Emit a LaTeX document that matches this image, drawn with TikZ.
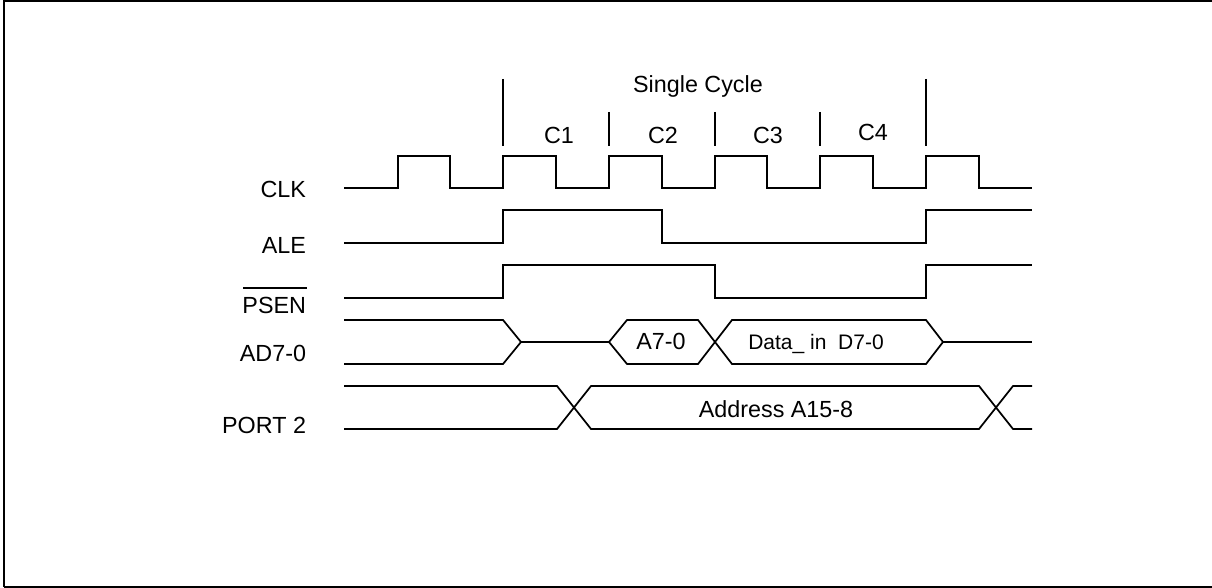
\documentclass[tikz,border=0pt]{standalone}
\usepackage{fontspec}
\setmainfont{Liberation Sans}
\tikzset{
  wave/.style={line width=1.3pt,line join=miter,line cap=butt,black},
  ticklines/.style={line width=1.2pt,black},
  frameline/.style={line width=1.5pt,black},
  lab/.style={inner sep=0pt,outer sep=0pt,anchor=base east,font=\fontsize{17.5}{20}\selectfont},
  captext/.style={inner sep=0pt,outer sep=0pt,anchor=base,font=\fontsize{17.5}{20}\selectfont},
  smalltext/.style={inner sep=0pt,outer sep=0pt,anchor=base,font=\fontsize{15.75}{18}\selectfont}
}
\begin{document}
\begin{tikzpicture}[x=0.75pt,y=-0.75pt]
\useasboundingbox (0,0) rectangle (1212,588);
\draw[frameline] (4,587) -- (4,1) -- (1212,1);
\draw[frameline] (4,587) -- (1212,587);
% cycle ticks
\draw[ticklines] (503,79) -- (503,146);
\draw[ticklines] (609,112) -- (609,146);
\draw[ticklines] (715,112) -- (715,146);
\draw[ticklines] (820,112) -- (820,146);
\draw[ticklines] (926,79) -- (926,146);
% CLK
\draw[wave] (344,188) -- (398,188) -- (398,156) -- (450,156) -- (450,188) -- (503,188) -- (503,156) -- (556,156) -- (556,188) -- (609,188) -- (609,156) -- (662,156) -- (662,188) -- (715,188) -- (715,156) -- (767,156) -- (767,188) -- (820,188) -- (820,156) -- (873,156) -- (873,188) -- (926,188) -- (926,156) -- (979,156) -- (979,188) -- (1032,188);
% ALE
\draw[wave] (344,243) -- (503,243) -- (503,210) -- (662,210) -- (662,243) -- (926,243) -- (926,210) -- (1032,210);
% PSEN
\draw[wave] (344,298) -- (503,298) -- (503,265) -- (715,265) -- (715,298) -- (926,298) -- (926,265) -- (1032,265);
% AD7-0
\draw[wave] (344,320) -- (503,320) -- (521,342) -- (503,364) -- (344,364);
\draw[wave] (521,342) -- (609,342);
\draw[wave] (609,342) -- (627,320) -- (698,320) -- (732,364) -- (926,364) -- (943,342) -- (926,320) -- (732,320) -- (698,364) -- (627,364) -- cycle;
\draw[wave] (943,342) -- (1032,342);
% PORT 2
\draw[wave] (344,386) -- (557,386) -- (591,429) -- (979,429) -- (1013,386) -- (1032,386);
\draw[wave] (344,429) -- (557,429) -- (591,386) -- (979,386) -- (1013,429) -- (1032,429);
% labels
\node[lab] (clk) at (306,197) {CLK};
\node[lab] (ale) at (306,253) {ALE};
\node[lab] (psen) at (306,313) {PSEN};
\draw[line width=1.1pt] (243,288) -- (307,288);
\node[lab] (ad) at (306,361) {AD7-0};
\node[lab] (port) at (306,433) {PORT 2};
\node[captext] (single) at (698,93) {Single Cycle};
\node[captext] (c1) at (559,143) {C1};
\node[captext] (c2) at (663,143) {C2};
\node[captext] (c3) at (768,143) {C3};
\node[captext] (c4) at (873,141) {C4};
\node[captext] (a70) at (661,349) {A7-0};
\node[smalltext] (data) at (816,349) {Data\_ in\ \ D7-0};
\node[captext] (addr) at (776,417) {Address A15-8};
\end{tikzpicture}
\end{document}
